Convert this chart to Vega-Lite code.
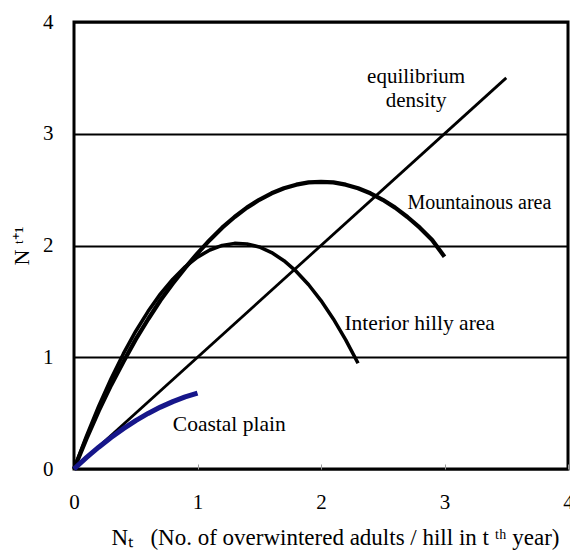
{
  "$schema": "https://vega.github.io/schema/vega-lite/v6.json",
  "width": 494,
  "height": 447,
  "autosize": {"type": "none"},
  "padding": {"left": 74, "top": 22, "right": 2, "bottom": 81},
  "background": "white",
  "config": {
    "font": "Liberation Serif, Times New Roman, serif",
    "view": {"stroke": "black", "strokeWidth": 3},
    "axis": {"labelFont": "Liberation Serif, Times New Roman, serif", "titleFont": "Liberation Serif, Times New Roman, serif", "labelColor": "black", "titleColor": "black", "titleFontWeight": "normal", "labelFontSize": 21, "titleFontSize": 21, "domain": false, "format": "d"},
    "text": {"font": "Liberation Serif, Times New Roman, serif"}
  },
  "datasets": {
    "curves": [
      {"series": "equilibrium", "x": 0, "y": 0},
      {"series": "equilibrium", "x": 3.5, "y": 3.5},
      {"series": "interior", "x": 0, "y": 0},
      {"series": "interior", "x": 0.1, "y": 0.292},
      {"series": "interior", "x": 0.2, "y": 0.562},
      {"series": "interior", "x": 0.3, "y": 0.808},
      {"series": "interior", "x": 0.4, "y": 1.032},
      {"series": "interior", "x": 0.5, "y": 1.233},
      {"series": "interior", "x": 0.6, "y": 1.411},
      {"series": "interior", "x": 0.7, "y": 1.567},
      {"series": "interior", "x": 0.8, "y": 1.699},
      {"series": "interior", "x": 0.9, "y": 1.809},
      {"series": "interior", "x": 1.0, "y": 1.896},
      {"series": "interior", "x": 1.1, "y": 1.96},
      {"series": "interior", "x": 1.2, "y": 2.001},
      {"series": "interior", "x": 1.3, "y": 2.019},
      {"series": "interior", "x": 1.4, "y": 2.014},
      {"series": "interior", "x": 1.5, "y": 1.987},
      {"series": "interior", "x": 1.6, "y": 1.937},
      {"series": "interior", "x": 1.7, "y": 1.864},
      {"series": "interior", "x": 1.8, "y": 1.768},
      {"series": "interior", "x": 1.9, "y": 1.649},
      {"series": "interior", "x": 2.0, "y": 1.507},
      {"series": "interior", "x": 2.1, "y": 1.343},
      {"series": "interior", "x": 2.2, "y": 1.156},
      {"series": "interior", "x": 2.3, "y": 0.946},
      {"series": "mountain", "x": 0, "y": 0},
      {"series": "mountain", "x": 0.1, "y": 0.27},
      {"series": "mountain", "x": 0.2, "y": 0.52},
      {"series": "mountain", "x": 0.3, "y": 0.75},
      {"series": "mountain", "x": 0.4, "y": 0.96},
      {"series": "mountain", "x": 0.5, "y": 1.16},
      {"series": "mountain", "x": 0.6, "y": 1.34},
      {"series": "mountain", "x": 0.7, "y": 1.51},
      {"series": "mountain", "x": 0.8, "y": 1.66},
      {"series": "mountain", "x": 0.9, "y": 1.80},
      {"series": "mountain", "x": 1.0, "y": 1.93},
      {"series": "mountain", "x": 1.1, "y": 2.05},
      {"series": "mountain", "x": 1.2, "y": 2.159},
      {"series": "mountain", "x": 1.3, "y": 2.255},
      {"series": "mountain", "x": 1.4, "y": 2.339},
      {"series": "mountain", "x": 1.5, "y": 2.409},
      {"series": "mountain", "x": 1.6, "y": 2.467},
      {"series": "mountain", "x": 1.7, "y": 2.512},
      {"series": "mountain", "x": 1.8, "y": 2.544},
      {"series": "mountain", "x": 1.9, "y": 2.564},
      {"series": "mountain", "x": 2.0, "y": 2.57},
      {"series": "mountain", "x": 2.1, "y": 2.564},
      {"series": "mountain", "x": 2.2, "y": 2.544},
      {"series": "mountain", "x": 2.3, "y": 2.512},
      {"series": "mountain", "x": 2.4, "y": 2.467},
      {"series": "mountain", "x": 2.5, "y": 2.409},
      {"series": "mountain", "x": 2.6, "y": 2.339},
      {"series": "mountain", "x": 2.7, "y": 2.255},
      {"series": "mountain", "x": 2.8, "y": 2.159},
      {"series": "mountain", "x": 2.9, "y": 2.05},
      {"series": "mountain", "x": 3.0, "y": 1.9},
      {"series": "coastal", "x": 0, "y": 0},
      {"series": "coastal", "x": 0.1, "y": 0.101},
      {"series": "coastal", "x": 0.2, "y": 0.195},
      {"series": "coastal", "x": 0.3, "y": 0.282},
      {"series": "coastal", "x": 0.4, "y": 0.361},
      {"series": "coastal", "x": 0.5, "y": 0.433},
      {"series": "coastal", "x": 0.6, "y": 0.497},
      {"series": "coastal", "x": 0.7, "y": 0.554},
      {"series": "coastal", "x": 0.8, "y": 0.603},
      {"series": "coastal", "x": 0.9, "y": 0.645},
      {"series": "coastal", "x": 1.0, "y": 0.68}
    ],
    "centerLabels": [
      {"text": "equilibrium", "x": 2.77, "y": 3.51},
      {"text": "density", "x": 2.77, "y": 3.29}
    ],
    "leftLabels": [
      {"text": "Interior hilly area", "x": 2.19, "y": 1.3},
      {"text": "Coastal plain", "x": 0.8, "y": 0.39}
    ],
    "mountainLabel": [
      {"text": "Mountainous area", "x": 2.7, "y": 2.38}
    ]
  },
  "layer": [
    {
      "data": {"name": "curves"},
      "mark": {"type": "line", "strokeCap": "butt", "strokeJoin": "round"},
      "encoding": {
        "x": {"field": "x", "type": "quantitative", "scale": {"domain": [0, 4], "nice": false},
              "axis": {"values": [0, 1, 2, 3, 4], "grid": false, "tickSize": -5, "tickColor": "#999999", "tickWidth": 1, "labelPadding": 27, "labelFlush": false,
                       "title": "Nₜ\u00a0\u00a0\u00a0(No. of overwintered adults / hill in t\u00a0ᵗʰ year)", "titleFontSize": 23, "titlePadding": 14, "titleX": 261}},
        "y": {"field": "y", "type": "quantitative", "scale": {"domain": [0, 4], "nice": false},
              "axis": {"values": [0, 1, 2, 3, 4], "grid": true, "gridColor": "black", "gridWidth": 2, "gridOpacity": 1, "ticks": false, "labelPadding": 21, "labelFlush": false,
                       "title": "N ᵗ⁺¹", "titleFontSize": 22, "titlePadding": 9}},
        "detail": {"field": "series"},
        "order": {"field": "x", "type": "quantitative"},
        "color": {"field": "series", "type": "nominal", "legend": null,
                  "scale": {"domain": ["equilibrium", "interior", "mountain", "coastal"], "range": ["black", "black", "black", "#16168a"]}},
        "strokeWidth": {"field": "series", "type": "nominal", "legend": null,
                  "scale": {"domain": ["equilibrium", "interior", "mountain", "coastal"], "range": [2.8, 5, 5, 4]}}
      }
    },
    {
      "data": {"name": "centerLabels"},
      "mark": {"type": "text", "font": "Liberation Serif, Times New Roman, serif", "fontSize": 21, "color": "black", "baseline": "middle", "align": "center"},
      "encoding": {
        "x": {"field": "x", "type": "quantitative"},
        "y": {"field": "y", "type": "quantitative"},
        "text": {"field": "text"}
      }
    },
    {
      "data": {"name": "leftLabels"},
      "mark": {"type": "text", "font": "Liberation Serif, Times New Roman, serif", "fontSize": 21.5, "color": "black", "baseline": "middle", "align": "left"},
      "encoding": {
        "x": {"field": "x", "type": "quantitative"},
        "y": {"field": "y", "type": "quantitative"},
        "text": {"field": "text"}
      }
    },
    {
      "data": {"name": "mountainLabel"},
      "mark": {"type": "text", "font": "Liberation Serif, Times New Roman, serif", "fontSize": 20, "color": "black", "baseline": "middle", "align": "left"},
      "encoding": {
        "x": {"field": "x", "type": "quantitative"},
        "y": {"field": "y", "type": "quantitative"},
        "text": {"field": "text"}
      }
    }
  ]
}
